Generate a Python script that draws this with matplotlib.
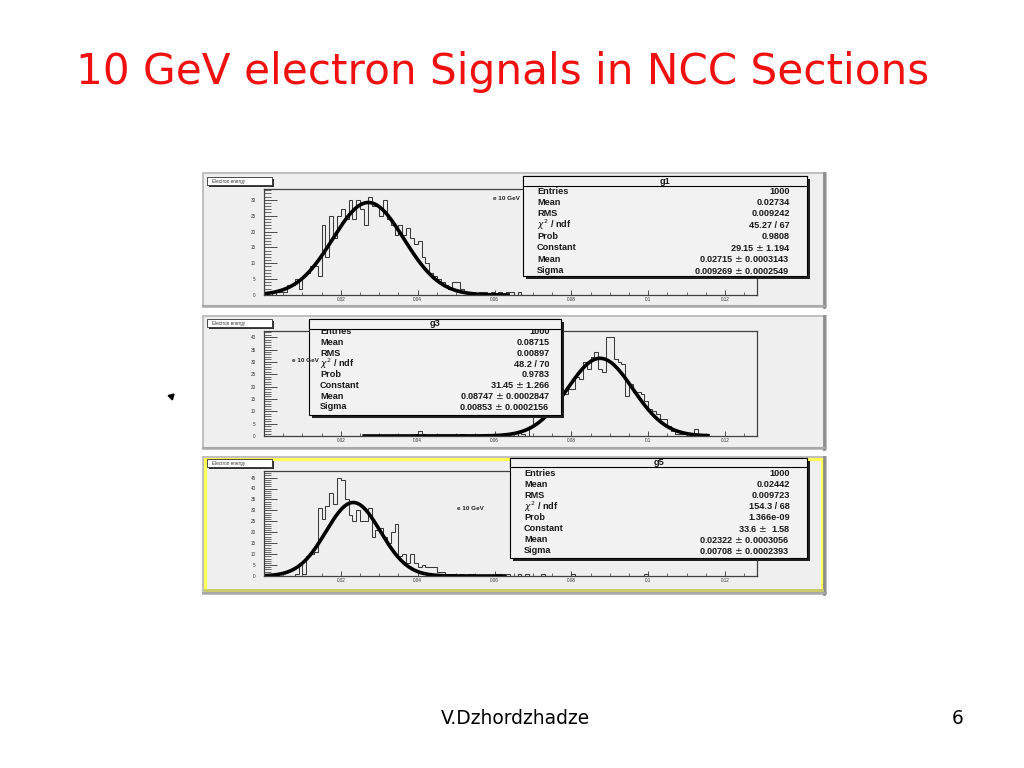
import numpy as np
import matplotlib
matplotlib.use("Agg")
import matplotlib.pyplot as plt
from matplotlib.patches import Rectangle
from matplotlib.ticker import MultipleLocator

# histogram contents (bin width 0.001, first bin starts at 0)
BIN_WIDTH = 0.001
g1_counts = [0, 1, 0, 1, 1, 1, 3, 3, 5, 2, 6, 7, 9, 9, 6, 22, 12, 25, 18, 25,
             27, 24, 30, 24, 30, 27, 22, 31, 28, 28, 25, 30, 24, 22, 19, 22, 19, 21, 18, 16,
             17, 12, 10, 7, 6, 5, 4, 3, 2, 4, 4, 2, 1, 1, 1, 0, 1, 1, 0, 1,
             0, 1, 0, 1, 1, 0, 1]
g3_counts = [0] * 39 + [1, 2, 1, 0, 0, 0, 0, 0, 0, 0, 0, 0, 1, 0, 0, 0, 0, 0, 0, 1,
             1, 0, 0, 0, 0, 0, 0, 2, 1, 0, 4, 9, 8, 9, 10, 13, 15, 14, 18, 17,
             19, 19, 24, 23, 30, 27, 32, 34, 27, 26, 40, 40, 31, 30, 29, 16, 21, 18, 18, 17,
             14, 11, 10, 9, 7, 7, 4, 2, 1, 1, 1, 0, 0, 3, 1, 1]
g5_counts = [0, 0, 0, 0, 0, 0, 0, 0, 1, 5, 1, 9, 10, 11, 31, 26, 32, 38, 33, 45,
             44, 35, 28, 25, 30, 25, 25, 31, 18, 21, 22, 18, 15, 20, 24, 9, 10, 6, 10, 6,
             4, 5, 4, 4, 4, 2, 2, 1, 1, 1, 0, 1, 0, 1, 1, 0, 0, 0, 0, 0,
             1, 1, 0, 1, 0, 0, 1, 0, 1, 0, 0, 0, 1, 0, 0, 0, 0, 0, 0, 0,
             1, 0, 0, 0, 0, 0, 0, 0, 0, 0, 0, 0, 0, 0, 0, 0, 0, 0, 0, 1]

# gaussian fit parameters shown in the stat boxes
g1_fit = (29.15, 0.02715, 0.009269)
g3_fit = (31.45, 0.08747, 0.00853)
g5_fit = (33.6, 0.02322, 0.00708)
g1_fit_range = (0.0, 0.064)
g3_fit_range = (0.0256, 0.116)
g5_fit_range = (0.0, 0.063)

stat_labels = ["Entries", "Mean", "RMS", r"$\chi^2$ / ndf", "Prob", "Constant", "Mean", "Sigma"]
g1_stats = ["1000", "0.02734", "0.009242", "45.27 / 67", "0.9808",
            "29.15 $\\pm$ 1.194", "0.02715 $\\pm$ 0.0003143", "0.009269 $\\pm$ 0.0002549"]
g3_stats = ["1000", "0.08715", "0.00897", "48.2 / 70", "0.9783",
            "31.45 $\\pm$ 1.266", "0.08747 $\\pm$ 0.0002847", "0.00853 $\\pm$ 0.0002156"]
g5_stats = ["1000", "0.02442", "0.009723", "154.3 / 68", "1.366e-09",
            "33.6 $\\pm$  1.58", "0.02322 $\\pm$ 0.0003056", "0.00708 $\\pm$ 0.0002393"]

x_tick_vals = [0.02, 0.04, 0.06, 0.08, 0.1, 0.12]
x_tick_labels = ["0.02", "0.04", "0.06", "0.08", "0.1", "0.12"]

W, H = 1024, 768
plt.rcParams['font.family'] = ['Liberation Sans', 'DejaVu Sans']
plt.rcParams['mathtext.fontset'] = 'dejavusans'

fig = plt.figure(figsize=(10.24, 7.68), dpi=100)


def rect(x0, y0, x1, y1):
    return [x0 / W, 1 - y1 / H, (x1 - x0) / W, (y1 - y0) / H]


bg = fig.add_axes([0, 0, 1, 1], zorder=0)
bg.set_xlim(0, W)
bg.set_ylim(H, 0)
bg.axis('off')
fg = fig.add_axes([0, 0, 1, 1], zorder=5)
fg.set_xlim(0, W)
fg.set_ylim(H, 0)
fg.axis('off')
fg.patch.set_alpha(0)


def draw_pad(x0, y0, x1, y1, yellow=False):
    bg.add_patch(Rectangle((x0, y0), x1 - x0, y1 - y0, fc='#efefef', ec='#b5b5b5', lw=1.2))
    bg.plot([x1 - 2, x1 - 2], [y0, y1], color='#8c8c8c', lw=2)
    bg.plot([x0, x1], [y1 - 1.5, y1 - 1.5], color='#a8a8a8', lw=1.5)
    if yellow:
        bg.add_patch(Rectangle((x0 + 1.5, y0 + 1.5), x1 - x0 - 6, y1 - y0 - 6,
                               fc='none', ec='#ffff55', lw=2.2))
        bg.plot([x0 + 2, x1 - 4], [y1 - 4, y1 - 4], color='#c8c870', lw=2)


def draw_hist(frame, counts, fit, fit_range, ymax):
    ax = fig.add_axes(rect(*frame), zorder=2)
    ax.set_facecolor('#efefef')
    edges = BIN_WIDTH * np.arange(len(counts) + 1)
    ax.stairs(counts, edges, color='#3a3a3a', lw=0.75)
    c, m, s = fit
    xf = np.linspace(fit_range[0], fit_range[1], 500)
    ax.plot(xf, c * np.exp(-0.5 * ((xf - m) / s) ** 2), color='black', lw=2.6,
            solid_capstyle='butt')
    ax.set_xlim(0, 0.1283)
    ax.set_ylim(0, ymax)
    ax.set_xticks(x_tick_vals)
    ax.set_xticklabels(x_tick_labels)
    ax.xaxis.set_minor_locator(MultipleLocator(0.005))
    ax.yaxis.set_major_locator(MultipleLocator(5))
    ax.yaxis.set_minor_locator(MultipleLocator(1))
    ax.tick_params(axis='x', which='major', direction='in', length=3.5, width=0.6,
                   labelsize=3.3, pad=1.5, colors='#333333')
    ax.tick_params(axis='x', which='minor', direction='in', length=2, width=0.5, colors='#333333')
    ax.tick_params(axis='y', which='major', direction='in', length=9, width=0.6,
                   labelsize=3.3, pad=6, colors='#333333')
    ax.tick_params(axis='y', which='minor', direction='in', length=5, width=0.5, colors='#333333')
    for sp in ax.spines.values():
        sp.set_color('#404040')
        sp.set_linewidth(0.9)
    return ax


def stats_box(box, title, values, title_h, row0, step, lx, rx):
    x0, y0, x1, y1 = box
    fg.add_patch(Rectangle((x0 + 2.5, y0 + 2.5), x1 - x0, y1 - y0, fc='#202020', ec='none', zorder=1))
    fg.add_patch(Rectangle((x0, y0), x1 - x0, y1 - y0, fc='#f2f2f2', ec='black', lw=0.8, zorder=2))
    for i, (lab, val) in enumerate(zip(stat_labels, values)):
        y = row0 + i * step
        fg.text(lx, y, lab, fontsize=6.6, fontweight='bold', ha='left', va='center',
                color='#1a1a1a', zorder=3)
        fg.text(rx, y, val, fontsize=6.6, fontweight='bold', ha='right', va='center',
                color='#1a1a1a', zorder=3)
    fg.add_patch(Rectangle((x0, y0), x1 - x0, title_h, fc='#f2f2f2', ec='black', lw=0.8, zorder=4))
    fg.text((x0 + x1) / 2, y0 + title_h / 2, title, fontsize=6.6, fontweight='bold',
            ha='center', va='center', color='#1a1a1a', zorder=5)


def title_box(x0, y0, x1, y1, txt):
    fg.add_patch(Rectangle((x0 + 1.5, y0 + 1.5), x1 - x0, y1 - y0, fc='#303030', ec='none', zorder=1))
    fg.add_patch(Rectangle((x0, y0), x1 - x0, y1 - y0, fc='white', ec='#303030', lw=0.6, zorder=2))
    fg.text(x0 + 5, (y0 + y1) / 2, txt, fontsize=3.3, ha='left', va='center', color='#333333', zorder=3)


# panels
draw_pad(203, 173, 826, 307)
draw_pad(203, 316, 826, 449)
draw_pad(203, 457, 826, 594, yellow=True)

draw_hist((264, 189, 757, 295), g1_counts, g1_fit, g1_fit_range, 33.4)
draw_hist((264, 331, 757, 436), g3_counts, g3_fit, g3_fit_range, 42.5)
draw_hist((264, 471, 757, 576), g5_counts, g5_fit, g5_fit_range, 48.0)

title_box(207, 177, 272, 185, "Electron energy")
title_box(207, 319, 272, 327, "Electron energy")
title_box(207, 459, 272, 467, "Electron energy")

stats_box((523, 176, 807, 276), "g1", g1_stats, 10, 191, 11.4, 537, 790)
stats_box((309, 319, 561, 415), "g3", g3_stats, 10, 332, 10.7, 320, 550)
stats_box((510, 458, 807, 558), "g5", g5_stats, 9, 473, 11.1, 524, 790)

fg.text(520, 198, "e 10 GeV", fontsize=4.6, fontweight='bold', ha='right', va='center',
        color='#222222', zorder=6)
fg.text(319, 361, "e 10 GeV", fontsize=4.6, fontweight='bold', ha='right', va='center',
        color='#222222', zorder=6)
fg.text(470, 509, "e 10 GeV", fontsize=4.6, fontweight='bold', ha='center', va='center',
        color='#222222', zorder=6)

# small pointer arrow on the slide
fg.plot([171], [396], marker=(3, 0, 75), color='black', markersize=5, zorder=6)

# slide title and footer
fig.text(503 / W, 1 - 72 / H, "10 GeV electron Signals in NCC Sections", fontsize=30.3,
         color='#f01010', ha='center', va='center', family='DejaVu Sans')
fig.text(515 / W, 1 - 718 / H, "V.Dzhordzhadze", fontsize=13.4, color='black',
         ha='center', va='center', family='DejaVu Sans')
fig.text(958 / W, 1 - 718 / H, "6", fontsize=13.4, color='black',
         ha='center', va='center', family='DejaVu Sans')

fig.savefig("out.png", dpi=100, facecolor='white')
